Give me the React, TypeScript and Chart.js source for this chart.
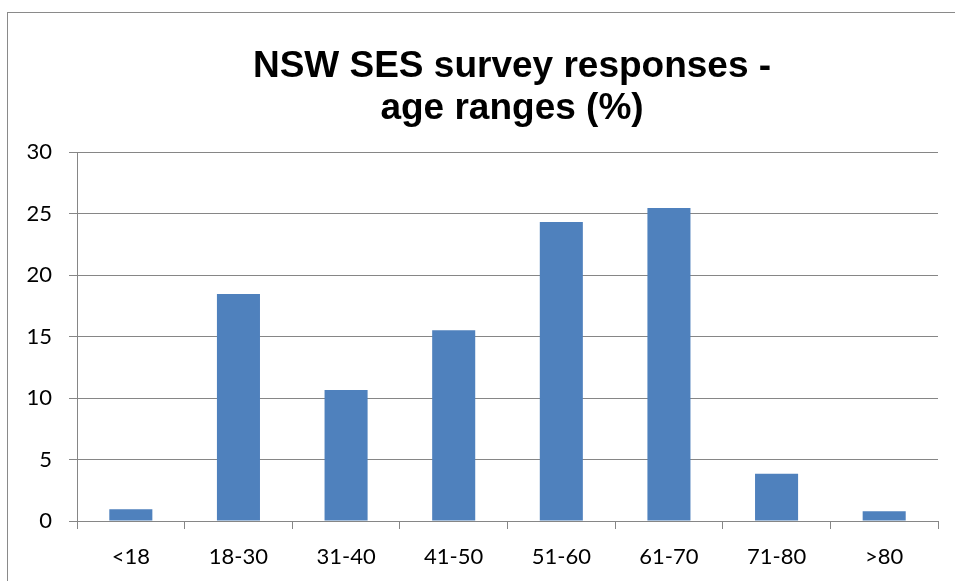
import { useEffect, useRef } from 'react';
import { Chart, registerables } from 'chart.js';

Chart.register(...registerables);

const categories = ['<18', '18-30', '31-40', '41-50', '51-60', '61-70', '71-80', '>80'];
const responses = [0.95, 18.45, 10.65, 15.5, 24.3, 25.45, 3.85, 0.8];
const yMin = 0;
const yMax = 30;
const yStep = 5;
const titleLines = ['NSW SES survey responses -', 'age ranges (%)'];

const W = 955;
const H = 581;
const CH = 600; // canvas slightly taller than the window, clipped
const GRID = '#868686';
const BAR = '#4F81BD';
const TICK_FONT = { family: 'Lato, "Open Sans", sans-serif', size: 22 };

const titlePlugin = {
  id: 'excelTitle',
  afterDraw(chart: any) {
    const { ctx, chartArea } = chart;
    ctx.save();
    ctx.font = 'bold 37px "Liberation Sans", Arial, sans-serif';
    ctx.fillStyle = '#000000';
    ctx.textAlign = 'center';
    ctx.textBaseline = 'alphabetic';
    const cx = (chartArea.left + chartArea.right) / 2 + 4.5;
    ctx.fillText(titleLines[0], cx, 77);
    ctx.fillText(titleLines[1], cx, 119);
    ctx.restore();
  },
};

export default function App() {
  const ref = useRef<HTMLCanvasElement | null>(null);

  useEffect(() => {
    if (!ref.current) return;
    const chart = new Chart(ref.current, {
      type: 'bar',
      data: {
        labels: categories,
        datasets: [
          {
            data: responses,
            backgroundColor: BAR,
            borderWidth: 0,
            barPercentage: 0.4,
            categoryPercentage: 1,
          },
        ],
      },
      options: {
        responsive: false,
        animation: false,
        devicePixelRatio: 1,
        events: [],
        layout: { padding: { top: 152, right: 17, bottom: 15, left: 9.5 } },
        plugins: {
          legend: { display: false },
          title: { display: false },
          tooltip: { enabled: false },
        },
        scales: {
          x: {
            grid: {
              display: true,
              drawOnChartArea: false,
              drawTicks: true,
              tickLength: 8,
              color: GRID,
              offset: true,
            },
            border: { display: true, color: GRID, width: 1 },
            ticks: { color: '#000000', font: TICK_FONT, padding: 14.8, maxRotation: 0 },
          },
          y: {
            min: yMin,
            max: yMax,
            grid: { color: GRID, tickLength: 8, lineWidth: 1 },
            border: { display: true, color: GRID, width: 1 },
            ticks: { stepSize: yStep, color: '#000000', font: TICK_FONT, padding: 17 },
          },
        },
      },
      plugins: [titlePlugin],
    });
    return () => chart.destroy();
  }, []);

  return (
    <div
      style={{
        position: 'fixed',
        left: 0,
        top: 0,
        width: W,
        height: H,
        overflow: 'hidden',
        background: '#ffffff',
      }}
    >
      <div
        style={{
          position: 'absolute',
          left: 7,
          top: 12,
          right: -20,
          bottom: -20,
          borderLeft: '1.5px solid #8a8a8a',
          borderTop: '1.5px solid #8a8a8a',
        }}
      />
      <canvas
        ref={ref}
        width={W}
        height={CH}
        style={{ position: 'absolute', left: 0, top: 0, width: W + 'px', height: CH + 'px' }}
      />
    </div>
  );
}
